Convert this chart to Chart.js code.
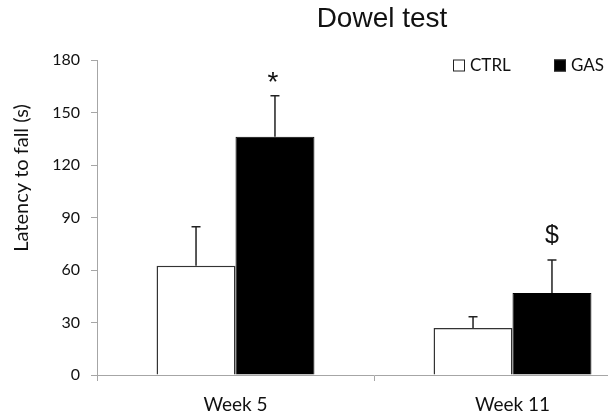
<!DOCTYPE html>
<html>
<head>
<meta charset="utf-8">
<script src="https://cdn.jsdelivr.net/npm/chart.js@4"></script>
<style>
  html, body { margin: 0; padding: 0; background: #fff; }
  /* the original figure is cropped on the right, so the canvas is wider than the window */
  #wrap { width: 608px; height: 416px; overflow: hidden; }
  canvas { display: block; }
</style>
</head>
<body>
<div id="wrap"><canvas id="dowelChart" width="700" height="416"></canvas></div>
<script>
// Data
const categories = ['Week 5', 'Week 11'];
const ctrlMeans = [62.5, 26.9];
const ctrlErrors = [22.2, 6.4];
const gasMeans = [136.2, 46.8];
const gasErrors = [23.4, 18.9];
const ctrlMarks = ['', ''];
const gasMarks = ['*', '$'];
const yTicks = [0, 30, 60, 90, 120, 150, 180];

const axisGray = '#a6a6a6';
const textColor = '#111111';
const labelFont = 'Lato, "Open Sans", sans-serif';
const arialFont = '"Liberation Sans", Arial, sans-serif';

// upper error bars + significance marks
const errorBarPlugin = {
    id: 'errorBars',
    afterDatasetsDraw(chart) {
        const ctx = chart.ctx;
        const y = chart.scales.y;
        chart.data.datasets.forEach((ds, i) => {
            const meta = chart.getDatasetMeta(i);
            meta.data.forEach((bar, j) => {
                const top = y.getPixelForValue(ds.data[j] + ds.errors[j]);
                ctx.save();
                ctx.strokeStyle = '#222';
                ctx.lineWidth = 1.5;
                ctx.beginPath();
                ctx.moveTo(bar.x, bar.y);
                ctx.lineTo(bar.x, top);
                ctx.moveTo(bar.x - 4.5, top);
                ctx.lineTo(bar.x + 4.5, top);
                ctx.stroke();
                const mark = ds.marks[j];
                if (mark) {
                    ctx.fillStyle = textColor;
                    ctx.textAlign = 'center';
                    ctx.textBaseline = 'alphabetic';
                    if (mark === '*') {
                        ctx.font = '28px ' + arialFont;
                        ctx.fillText(mark, bar.x - 2, top - 5);
                    } else {
                        ctx.font = '25px ' + arialFont;
                        ctx.fillText(mark, bar.x, top - 17);
                    }
                }
                ctx.restore();
            });
        });
    }
};

// title, y-axis title and legend placed like the original figure
const headerPlugin = {
    id: 'header',
    afterDraw(chart) {
        const ctx = chart.ctx;
        ctx.save();
        ctx.fillStyle = textColor;
        ctx.font = '28px ' + arialFont;
        ctx.textAlign = 'center';
        ctx.textBaseline = 'middle';
        ctx.fillText('Dowel test', 382, 19);

        // y-axis title sits higher than the plot centre in the original
        ctx.save();
        ctx.translate(22, 178);
        ctx.rotate(-Math.PI / 2);
        ctx.font = '20px ' + labelFont;
        ctx.fillText('Latency to fall (s)', 0, 0);
        ctx.restore();

        const legendX = [453, 554];
        ctx.font = '17px ' + labelFont;
        ctx.textAlign = 'left';
        chart.data.datasets.forEach((ds, i) => {
            const x = legendX[i];
            ctx.fillStyle = ds.backgroundColor;
            ctx.fillRect(x, 59.5, 12, 12);
            ctx.strokeStyle = '#222';
            ctx.lineWidth = 1;
            ctx.strokeRect(x + 0.5, 60, 11, 11);
            ctx.fillStyle = textColor;
            ctx.fillText(ds.label, x + 17, 66);
        });
        ctx.restore();
    }
};

const ctx = document.getElementById('dowelChart').getContext('2d');
const dowelChart = new Chart(ctx, {
    type: 'bar',
    data: {
        labels: categories,
        datasets: [{
            label: 'CTRL',
            data: ctrlMeans,
            errors: ctrlErrors,
            marks: ctrlMarks,
            backgroundColor: '#ffffff',
            borderColor: '#333333',
            borderWidth: 1.5
        }, {
            label: 'GAS',
            data: gasMeans,
            errors: gasErrors,
            marks: gasMarks,
            backgroundColor: '#000000',
            borderColor: '#000000',
            borderWidth: 1
        }]
    },
    options: {
        responsive: false,
        animation: false,
        layout: { padding: { top: 60, right: 49, left: 0, bottom: 0 } },
        categoryPercentage: 0.57,
        barPercentage: 1.0,
        plugins: {
            legend: { display: false },
            title: { display: false },
            tooltip: { enabled: false }
        },
        scales: {
            x: {
                grid: {
                    offset: true,
                    drawOnChartArea: false,
                    drawTicks: true,
                    tickLength: 6,
                    color: axisGray
                },
                border: { color: axisGray, width: 1 },
                ticks: {
                    color: textColor,
                    font: { family: labelFont, size: 19 },
                    padding: 12
                },
                afterFit(scale) { scale.height = 41; }
            },
            y: {
                min: 0,
                max: 180,
                afterBuildTicks(scale) {
                    scale.ticks = yTicks.map(v => ({ value: v }));
                },
                grid: {
                    drawOnChartArea: false,
                    drawTicks: true,
                    tickLength: 6,
                    color: axisGray
                },
                border: { color: axisGray, width: 1 },
                ticks: {
                    color: textColor,
                    font: { family: labelFont, size: 16 },
                    padding: 11
                },
                afterFit(scale) { scale.width = 97; }
            }
        }
    },
    plugins: [errorBarPlugin, headerPlugin]
});
</script>
</body>
</html>
